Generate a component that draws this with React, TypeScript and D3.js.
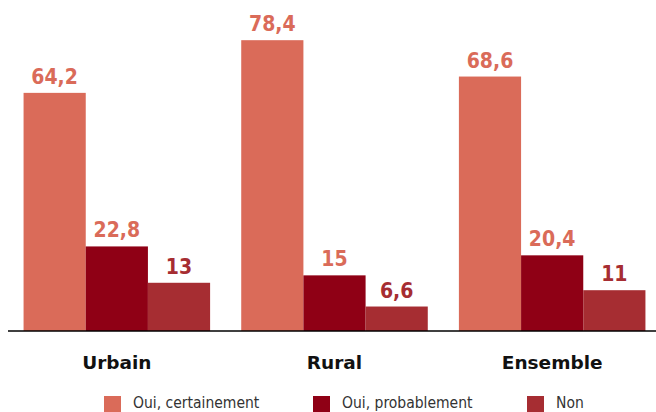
import React from "react";
import * as d3 from "d3";

const categories = ["Urbain", "Rural", "Ensemble"];
const seriesNames = ["Oui, certainement", "Oui, probablement", "Non"];
const certainement = [64.2, 78.4, 68.6];
const probablement = [22.8, 15, 20.4];
const non = [13, 6.6, 11];

const colors = ["#da6b59", "#8f0015", "#a62d32"];
const labelColors = ["#da6b59", "#da6b59", "#a62d32"];
const legendX = [104, 313, 527];

const fmt = (v: number) => String(v).replace(".", ",");

export default function App() {
	const width = 656;
	const height = 412;
	const baseline = 331;
	const font = "'DejaVu Sans Condensed', 'DejaVu Sans', sans-serif";

	const series = [certainement, probablement, non];

	const x0 = d3
		.scaleBand<string>()
		.domain(categories)
		.range([8, 661])
		.paddingInner(0.143)
		.paddingOuter(0.0715);

	const x1 = d3
		.scaleBand<number>()
		.domain([0, 1, 2])
		.range([0, x0.bandwidth()]);

	const y = d3.scaleLinear().domain([0, 86]).range([baseline, 12]);

	return (
		<svg
			width={width}
			height={height}
			style={{ position: "absolute", left: 0, top: 0, background: "#fff" }}
		>
			{categories.map((c, ci) => (
				<g key={c} transform={`translate(${x0(c)},0)`}>
					{series.map((s, si) => (
						<g key={si}>
							<rect
								x={x1(si)}
								y={y(s[ci])}
								width={x1.bandwidth()}
								height={baseline - y(s[ci])}
								fill={colors[si]}
							/>
							<text
								x={(x1(si) || 0) + x1.bandwidth() / 2}
								y={y(s[ci]) - 9}
								textAnchor="middle"
								fill={labelColors[si]}
								fontFamily={font}
								fontWeight="bold"
								fontSize={21}
							>
								{fmt(s[ci])}
							</text>
						</g>
					))}
					<text
						x={x0.bandwidth() / 2}
						y={369}
						textAnchor="middle"
						fill="#111"
						fontFamily="'DejaVu Sans', sans-serif"
						fontWeight="bold"
						fontSize={18.5}
					>
						{c}
					</text>
				</g>
			))}

			{/* axis */}
			<line x1={8} x2={656} y1={baseline} y2={baseline} stroke="#000" strokeWidth={1.5} />

			{/* legend */}
			{seriesNames.map((n, i) => (
				<g key={n}>
					<rect x={legendX[i]} y={396} width={17} height={16} fill={colors[i]} />
					<text
						x={legendX[i] + 29}
						y={408}
						fill="#333"
						fontFamily={font}
						fontSize={15.5}
					>
						{n}
					</text>
				</g>
			))}
		</svg>
	);
}
